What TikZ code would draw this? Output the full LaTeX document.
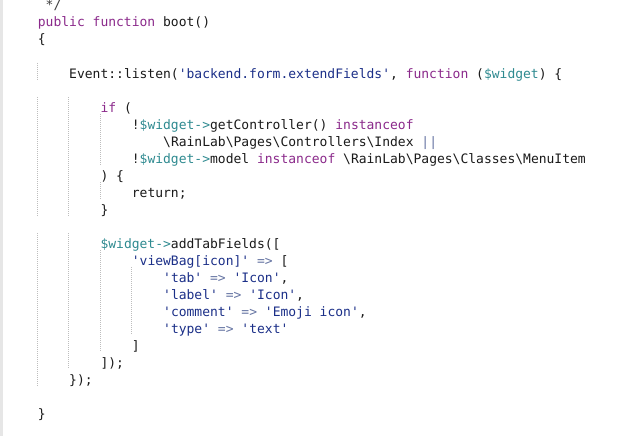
\documentclass[tikz,border=0pt]{standalone}
\usepackage{fontspec}
\setmonofont{DejaVu Sans Mono}
\definecolor{kwc}{HTML}{8B2A8B}
\definecolor{stc}{HTML}{1B2F88}
\definecolor{vrc}{HTML}{2E8A90}
\definecolor{opc}{HTML}{6675A3}
\definecolor{cmc}{HTML}{404040}
\definecolor{txc}{HTML}{1A1A1A}
\definecolor{guidec}{HTML}{BDBDBD}
\definecolor{gutterc}{HTML}{E6E6E6}
\newcommand\cKw[1]{\textcolor{kwc}{#1}}
\newcommand\cStr[1]{\textcolor{stc}{#1}}
\newcommand\cVar[1]{\textcolor{vrc}{#1}}
\newcommand\cOp[1]{\textcolor{opc}{#1}}
\newcommand\cx[1]{37.9+#1*7.83}
\tikzset{
  codeline/.style={anchor=base west, inner sep=0pt, outer sep=0pt,
    font=\ttfamily\fontsize{13}{17}\selectfont, text=txc},
  guideline/.style={draw=guidec, line width=0.8pt, dash pattern=on 1pt off 1pt}
}
\begin{document}
\begin{tikzpicture}[x=1pt,y=-1pt]
\useasboundingbox (0,0) rectangle (624,436);
\fill[white] (0,0) rectangle (624,436);
\fill[gutterc] (0,0) rectangle (3,436);
% indent guides
\draw[guideline] (37.5,63) -- (37.5,80);
\draw[guideline] (37.5,97) -- (37.5,216);
\draw[guideline] (37.5,233) -- (37.5,386);
\draw[guideline] (68.8,97) -- (68.8,216);
\draw[guideline] (68.8,233) -- (68.8,369);
\draw[guideline] (100.1,114) -- (100.1,165);
\draw[guideline] (100.1,182) -- (100.1,199);
\draw[guideline] (100.1,250) -- (100.1,352);
\draw[guideline] (131.5,267) -- (131.5,335);
% code lines
\node[codeline, text=cmc] (L0) at (\cx{1},10) {*/};
\node[codeline] (L1) at (\cx{0},27) {\cKw{public} \cKw{function} boot()};
\node[codeline] (L2) at (\cx{0},44) {\{};
\node[codeline] (L4) at (\cx{4},78) {Event::listen(\cStr{'backend.form.extendFields'}, \cKw{function} (\cVar{\$widget}) \{};
\node[codeline] (L6) at (\cx{8},112) {\cKw{if} (};
\node[codeline] (L7) at (\cx{12},129) {!\cVar{\$widget->}getController() \cKw{instanceof}};
\node[codeline] (L8) at (\cx{16},146) {\textbackslash RainLab\textbackslash Pages\textbackslash Controllers\textbackslash Index \cOp{||}};
\node[codeline] (L9) at (\cx{12},163) {!\cVar{\$widget->}model \cKw{instanceof} \textbackslash RainLab\textbackslash Pages\textbackslash Classes\textbackslash MenuItem};
\node[codeline] (L10) at (\cx{8},180) {) \{};
\node[codeline] (L11) at (\cx{12},197) {return;};
\node[codeline] (L12) at (\cx{8},214) {\}};
\node[codeline] (L14) at (\cx{8},248) {\cVar{\$widget->}addTabFields([};
\node[codeline] (L15) at (\cx{12},265) {\cStr{'viewBag[icon]'} \cOp{=>} [};
\node[codeline] (L16) at (\cx{16},282) {\cStr{'tab'} \cOp{=>} \cStr{'Icon'},};
\node[codeline] (L17) at (\cx{16},299) {\cStr{'label'} \cOp{=>} \cStr{'Icon'},};
\node[codeline] (L18) at (\cx{16},316) {\cStr{'comment'} \cOp{=>} \cStr{'Emoji icon'},};
\node[codeline] (L19) at (\cx{16},333) {\cStr{'type'} \cOp{=>} \cStr{'text'}};
\node[codeline] (L20) at (\cx{12},350) {]};
\node[codeline] (L21) at (\cx{8},367) {]);};
\node[codeline] (L22) at (\cx{4},384) {\});};
\node[codeline] (L24) at (\cx{0},418) {\}};
\end{tikzpicture}
\end{document}
